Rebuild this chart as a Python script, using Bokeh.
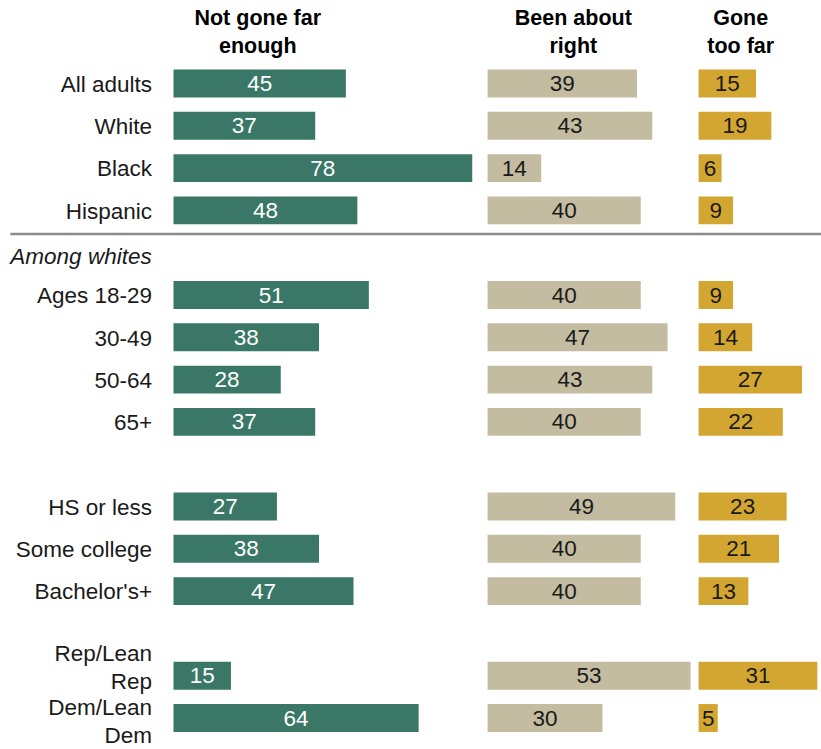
from bokeh.plotting import figure
from bokeh.models import Range1d, ColumnDataSource
from bokeh.core.properties import value
from bokeh.embed import file_html
from bokeh.resources import INLINE

# ---- data ----
groups = [
    ["All adults", "White", "Black", "Hispanic"],
    ["Ages 18-29", "30-49", "50-64", "65+"],
    ["HS or less", "Some college", "Bachelor's+"],
    ["Rep/Lean\nRep", "Dem/Lean\nDem"],
]
subheader = "Among whites"
headers = ["Not gone far\nenough", "Been about\nright", "Gone\ntoo far"]
not_far = [45, 37, 78, 48, 51, 38, 28, 37, 27, 38, 47, 15, 64]
about_right = [39, 43, 14, 40, 40, 47, 43, 40, 49, 40, 40, 53, 30]
too_far = [15, 19, 6, 9, 9, 14, 27, 22, 23, 21, 13, 31, 5]

# ---- layout ----
categories = [c for g in groups for c in g]
pos = []
r = 0
for gi, g in enumerate(groups):
    if gi >= 1:
        r += 1  # subheader row / blank gap
    for c in g:
        pos.append(r)
        r += 1
sub_row = pos[4] - 0.9

PX = 3.83
col_off = [0, 82.0, 137.1]
hdr_off = [22.0, 22.4, 11.0]
colors = ["#3a7766", "#c3bca0", "#d3a631"]
txt_colors = ["#ffffff", "#1a1a1a", "#1a1a1a"]
FONT = "Liberation Sans"
FS = "22.5px"

W, H = 821, 749
x0 = -173 / PX
x1 = (W - 173) / PX
pitch = 42.3
ytop = -83 / pitch
ybot = (H - 83) / pitch

p = figure(width=W, height=H, output_backend="svg", toolbar_location=None,
           x_range=Range1d(x0, x1), y_range=Range1d(ybot, ytop),
           x_axis_type=None, y_axis_type=None, min_border=0)
p.grid.visible = False
p.outline_line_color = None
p.background_fill_color = "white"

series = [not_far, about_right, too_far]
for i, vals in enumerate(series):
    left = [col_off[i]] * len(vals)
    right = [col_off[i] + v for v in vals]
    mid = [col_off[i] + v / 2 for v in vals]
    src = ColumnDataSource(dict(y=pos, left=left, right=right, mid=mid,
                                lab=[str(v) for v in vals]))
    p.hbar(y="y", left="left", right="right", height=0.66, source=src,
           fill_color=colors[i], line_color=None)
    p.text(x="mid", y="y", text="lab", source=src, text_align="center",
           text_baseline="middle", text_font=value(FONT),
           text_font_size=FS, text_color=txt_colors[i])

# row labels
lx, ly, lt = [], [], []
for c, y in zip(categories, pos):
    lines = c.split("\n")
    if len(lines) == 1:
        lx.append(-5.6); ly.append(y + 0.02); lt.append(c)
    else:
        shift = -0.52 if "Rep" in c else -0.25
        for k, ln in enumerate(lines):
            lx.append(-5.6); ly.append(y + shift + k * 0.66); lt.append(ln)
p.text(x=lx, y=ly, text=lt, text_align="right", text_baseline="middle",
       text_font=value(FONT), text_font_size=FS, text_color="#1a1a1a")

# subheader
p.text(x=[-42.6], y=[sub_row], text=[subheader], text_align="left",
       text_baseline="middle", text_font=value(FONT), text_font_size=FS,
       text_font_style="italic", text_color="#1a1a1a")

# separator
sep_y = (pos[3] + pos[4]) / 2 - 0.44
p.segment(x0=[-42.6], x1=[x1 + 5], y0=[sep_y], y1=[sep_y],
          line_color="#8c8c8c", line_width=2.5)

# headers
hx, hy, ht = [], [], []
for i, h in enumerate(headers):
    for k, ln in enumerate(h.split("\n")):
        hx.append(col_off[i] + hdr_off[i]); hy.append(-1.537 + k * 0.64); ht.append(ln)
p.text(x=hx, y=hy, text=ht, text_align="center", text_baseline="middle",
       text_font=value(FONT), text_font_size="21.5px", text_font_style="bold",
       text_color="#000000")

open("out.html", "w").write(file_html(p, INLINE))
